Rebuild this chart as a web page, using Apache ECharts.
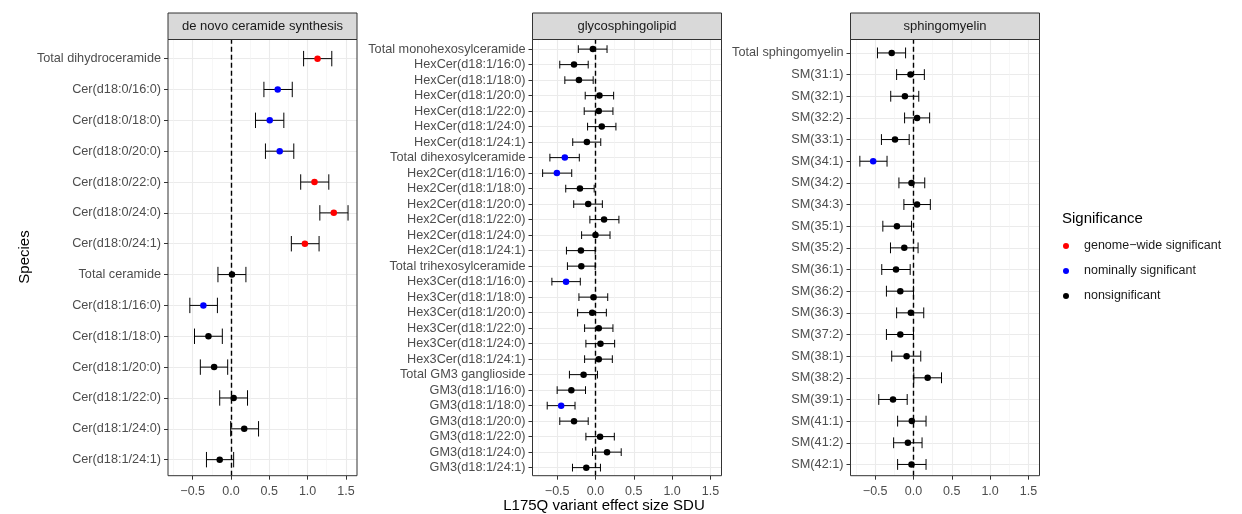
<!DOCTYPE html>
<html><head><meta charset="utf-8">
<script src="https://cdn.jsdelivr.net/npm/echarts@6/dist/echarts.min.js"></script>
<style>html,body{margin:0;padding:0;background:#fff}#c{width:1242px;height:514px}</style>
</head><body><div id="c"></div><script>
// ---------- data ----------
const panelTitles = ["de novo ceramide synthesis", "glycosphingolipid", "sphingomyelin"];
const sigNames = {g: "genome\u2212wide significant", n: "nominally significant", s: "nonsignificant"};
const sigColors = {g: "#FF0000", n: "#0000FF", s: "#000000"};
const xTicks = [-0.5, 0, 0.5, 1, 1.5];
const xMinor = [-0.75, -0.25, 0.25, 0.75, 1.25];

const cerSpecies = ["Total dihydroceramide","Cer(d18:0/16:0)","Cer(d18:0/18:0)","Cer(d18:0/20:0)","Cer(d18:0/22:0)","Cer(d18:0/24:0)","Cer(d18:0/24:1)","Total ceramide","Cer(d18:1/16:0)","Cer(d18:1/18:0)","Cer(d18:1/20:0)","Cer(d18:1/22:0)","Cer(d18:1/24:0)","Cer(d18:1/24:1)"];
const cerEst = [1.13,0.61,0.506,0.636,1.09,1.342,0.965,0.013,-0.36,-0.294,-0.22,0.035,0.173,-0.147];
const cerLo  = [0.948,0.43,0.32,0.45,0.91,1.16,0.788,-0.17,-0.537,-0.476,-0.40,-0.147,-0.004,-0.32];
const cerHi  = [1.316,0.80,0.69,0.82,1.277,1.528,1.15,0.195,-0.177,-0.113,-0.043,0.216,0.36,0.035];
const cerSig = ["g","n","n","n","g","g","g","s","n","s","s","s","s","s"];

const glySpecies = ["Total monohexosylceramide","HexCer(d18:1/16:0)","HexCer(d18:1/18:0)","HexCer(d18:1/20:0)","HexCer(d18:1/22:0)","HexCer(d18:1/24:0)","HexCer(d18:1/24:1)",
  "Total dihexosylceramide","Hex2Cer(d18:1/16:0)","Hex2Cer(d18:1/18:0)","Hex2Cer(d18:1/20:0)","Hex2Cer(d18:1/22:0)","Hex2Cer(d18:1/24:0)","Hex2Cer(d18:1/24:1)",
  "Total trihexosylceramide","Hex3Cer(d18:1/16:0)","Hex3Cer(d18:1/18:0)","Hex3Cer(d18:1/20:0)","Hex3Cer(d18:1/22:0)","Hex3Cer(d18:1/24:0)","Hex3Cer(d18:1/24:1)",
  "Total GM3 ganglioside","GM3(d18:1/16:0)","GM3(d18:1/18:0)","GM3(d18:1/20:0)","GM3(d18:1/22:0)","GM3(d18:1/24:0)","GM3(d18:1/24:1)"];
const glyEst = [-0.034,-0.28,-0.216,0.052,0.043,0.082,-0.112, -0.40,-0.504,-0.203,-0.095,0.112,0.0,-0.19, -0.185,-0.384,-0.026,-0.043,0.043,0.065,0.043, -0.155,-0.315,-0.448,-0.28,0.06,0.151,-0.12];
const glyLo  = [-0.224,-0.466,-0.40,-0.134,-0.147,-0.103,-0.297, -0.595,-0.69,-0.388,-0.284,-0.073,-0.181,-0.379, -0.366,-0.569,-0.216,-0.233,-0.142,-0.125,-0.142, -0.34,-0.50,-0.63,-0.466,-0.125,-0.039,-0.30];
const glyHi  = [0.151,-0.095,-0.03,0.237,0.228,0.267,0.069, -0.211,-0.31,-0.017,0.09,0.306,0.19,-0.004, -0.004,-0.198,0.16,0.142,0.228,0.25,0.22, 0.026,-0.13,-0.267,-0.095,0.246,0.336,0.065];
const glySig = ["s","s","s","s","s","s","s", "n","n","s","s","s","s","s", "s","n","s","s","s","s","s", "s","s","n","s","s","s","s"];

const smSpecies = ["Total sphingomyelin","SM(31:1)","SM(32:1)","SM(32:2)","SM(33:1)","SM(34:1)","SM(34:2)","SM(34:3)","SM(35:1)","SM(35:2)","SM(36:1)","SM(36:2)","SM(36:3)","SM(37:2)","SM(38:1)","SM(38:2)","SM(39:1)","SM(41:1)","SM(41:2)","SM(42:1)"];
const smEst = [-0.284,-0.039,-0.112,0.047,-0.241,-0.526,-0.026,0.047,-0.216,-0.12,-0.228,-0.172,-0.034,-0.172,-0.09,0.185,-0.267,-0.022,-0.073,-0.026];
const smLo  = [-0.47,-0.22,-0.297,-0.116,-0.418,-0.70,-0.19,-0.125,-0.40,-0.30,-0.414,-0.353,-0.22,-0.353,-0.284,0.004,-0.453,-0.207,-0.259,-0.207];
const smHi  = [-0.103,0.142,0.069,0.211,-0.056,-0.345,0.147,0.22,-0.026,0.06,-0.043,0.0,0.134,0.0,0.095,0.366,-0.082,0.164,0.112,0.164];
const smSig = ["s","s","s","s","s","n","s","s","s","s","s","s","s","s","s","s","s","s","s","s"];

// ---------- layout ----------
const FONT = "'Liberation Sans', Arial, Helvetica, sans-serif";
const XMIN = -0.822, XMAX = 1.645;
const PANEL_TOP = 39.5, PANEL_H = 436.2, STRIP_TOP = 13, PANEL_W = 189;
const panelLefts = [168, 532.5, 850.5];

const panels = [
  {sp: cerSpecies, est: cerEst, lo: cerLo, hi: cerHi, sig: cerSig},
  {sp: glySpecies, est: glyEst, lo: glyLo, hi: glyHi, sig: glySig},
  {sp: smSpecies, est: smEst, lo: smLo, hi: smHi, sig: smSig}
];

const grid = [], xAxis = [], yAxis = [], series = [], graphic = [];
const fmt = v => (Math.abs(v) < 1e-9 ? 0 : v).toFixed(1).replace('-', '\u2212');

panels.forEach((p, i) => {
  const L = panelLefts[i];
  const n = p.sp.length;
  const step = PANEL_H / (n - 1 + 1.14);
  const insetTop = 0.62 * step, insetBot = 0.52 * step;
  const fg = 2 * i, dg = 2 * i + 1;
  grid.push({left: L, top: PANEL_TOP, width: PANEL_W, height: PANEL_H, show: true, backgroundColor: '#fff', borderWidth: 0});
  grid.push({left: L, top: PANEL_TOP + insetTop, width: PANEL_W, height: PANEL_H - insetTop - insetBot});
  xAxis.push({gridIndex: fg, type: 'value', min: XMIN, max: XMAX,
    axisLine: {show: false, onZero: false}, splitLine: {show: false},
    axisTick: {show: true, length: 4, lineStyle: {color: '#333', width: 1}, customValues: xTicks},
    axisLabel: {show: true, customValues: xTicks, formatter: fmt, color: '#4D4D4D', fontSize: 12.5, fontFamily: FONT, margin: 9}});
  yAxis.push({gridIndex: fg, type: 'value', min: 0, max: 1, show: false});
  xAxis.push({gridIndex: dg, type: 'value', min: XMIN, max: XMAX, show: false});
  yAxis.push({gridIndex: dg, type: 'category', data: p.sp, inverse: true, boundaryGap: false, position: 'left',
    axisLine: {show: false, onZero: false},
    axisTick: {show: true, length: 4, interval: 0, lineStyle: {color: '#333', width: 1}},
    axisLabel: {interval: 0, color: '#4D4D4D', fontSize: 12.7, fontFamily: FONT, margin: 7},
    splitLine: {show: true, interval: 0, lineStyle: {color: '#EBEBEB', width: 1.1}}});

  // vertical grid lines (full panel height)
  series.push({type: 'scatter', xAxisIndex: fg, yAxisIndex: fg, data: [[0, 0.5]], symbolSize: 0, silent: true, z: 1,
    markLine: {silent: true, z: 1, symbol: ['none', 'none'], label: {show: false}, animation: false,
      data: xMinor.map(v => ({xAxis: v, lineStyle: {color: '#F2F2F2', width: 0.6, type: 'solid'}}))
        .concat(xTicks.map(v => ({xAxis: v, lineStyle: {color: '#EBEBEB', width: 1.1, type: 'solid'}})))}});
  // dashed zero line
  series.push({type: 'scatter', xAxisIndex: fg, yAxisIndex: fg, data: [[0, 0.5]], symbolSize: 0, silent: true, z: 2,
    markLine: {silent: true, z: 2, symbol: ['none', 'none'], label: {show: false}, animation: false,
      data: [{xAxis: 0, lineStyle: {color: '#000', width: 1.4, type: [5, 3]}}]}});

  // error bars
  series.push({type: 'custom', xAxisIndex: dg, yAxisIndex: dg, z: 9, silent: true,
    data: p.sp.map((s, k) => [p.lo[k], p.hi[k], k]),
    encode: {x: [0, 1], y: 2},
    renderItem: (params, api) => {
      const a = api.coord([api.value(0), api.value(2)]);
      const b = api.coord([api.value(1), api.value(2)]);
      const h = api.size([0, 1])[1] * 0.25;
      const st = {stroke: '#000', lineWidth: 1};
      return {type: 'group', children: [
        {type: 'line', shape: {x1: a[0], y1: a[1], x2: b[0], y2: b[1]}, style: st},
        {type: 'line', shape: {x1: a[0], y1: a[1] - h, x2: a[0], y2: a[1] + h}, style: st},
        {type: 'line', shape: {x1: b[0], y1: b[1] - h, x2: b[0], y2: b[1] + h}, style: st}
      ]};
    }});

  // points by significance
  ['g', 'n', 's'].forEach(code => {
    const d = [];
    p.sp.forEach((s, k) => { if (p.sig[k] === code) d.push([p.est[k], k]); });
    series.push({type: 'scatter', name: sigNames[code], xAxisIndex: dg, yAxisIndex: dg, z: 10,
      data: d, symbol: 'circle', symbolSize: 6.5, itemStyle: {color: sigColors[code], opacity: 1}});
  });

  // strip header + border
  graphic.push({type: 'rect', z: 50, shape: {x: L, y: STRIP_TOP, width: PANEL_W, height: PANEL_TOP - STRIP_TOP},
    style: {fill: '#D9D9D9', stroke: '#333', lineWidth: 1}});
  graphic.push({type: 'text', z: 51, x: L + PANEL_W / 2, y: (STRIP_TOP + PANEL_TOP) / 2,
    style: {text: panelTitles[i], fill: '#1A1A1A', font: '13px ' + FONT, textAlign: 'center', textVerticalAlign: 'middle'}});
  graphic.push({type: 'rect', z: 50, shape: {x: L, y: PANEL_TOP, width: PANEL_W, height: PANEL_H},
    style: {fill: 'none', stroke: '#333', lineWidth: 1}});
});

graphic.push({type: 'text', x: 25, y: 257, rotation: Math.PI / 2,
  style: {text: 'Species', fill: '#000', font: '15px ' + FONT, textAlign: 'center', textVerticalAlign: 'middle'}});
graphic.push({type: 'text', x: 604, y: 506,
  style: {text: 'L175Q variant effect size SDU', fill: '#000', font: '15px ' + FONT, textAlign: 'center', textVerticalAlign: 'middle'}});

const option = {
  animation: false,
  backgroundColor: '#fff',
  title: {text: 'Significance', left: 1062, top: 211, padding: 0,
    textStyle: {fontSize: 15, fontWeight: 'normal', color: '#000', fontFamily: FONT}},
  legend: {data: [sigNames.g, sigNames.n, sigNames.s], orient: 'vertical', left: 1063, top: 239,
    icon: 'circle', itemWidth: 26, itemHeight: 6, itemGap: 11, selectedMode: false, padding: 0,
    textStyle: {fontSize: 12.5, color: '#1A1A1A', fontFamily: FONT, lineHeight: 14}},
  grid, xAxis, yAxis, series, graphic
};
const chart = echarts.init(document.getElementById('c'), null, {renderer: 'canvas'});
chart.setOption(option);
</script></body></html>
